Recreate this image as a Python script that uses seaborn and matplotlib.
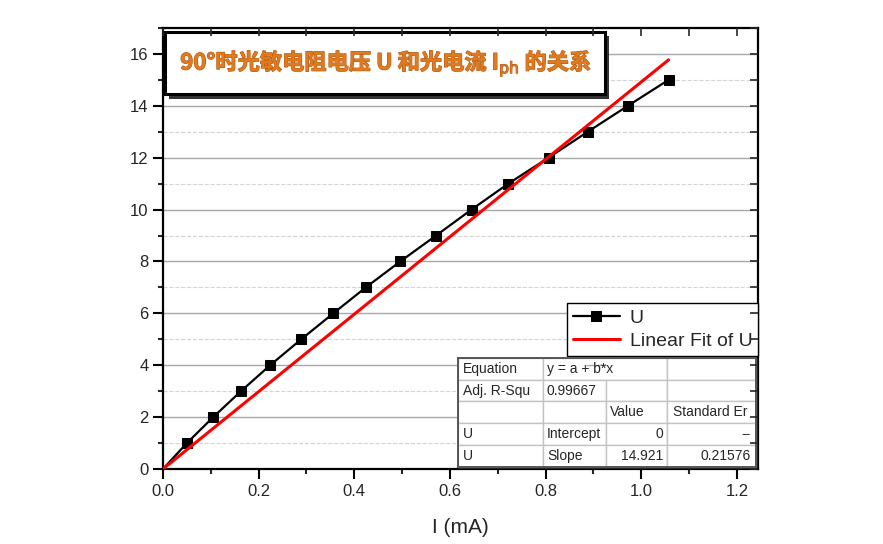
import matplotlib
matplotlib.use("Agg")
import matplotlib.pyplot as plt
import matplotlib.patheffects as pe
from matplotlib.patches import Rectangle
from matplotlib.ticker import MultipleLocator
import seaborn as sns

# data
current_ma = [0.0, 0.050, 0.105, 0.163, 0.224, 0.289, 0.356, 0.424, 0.496,
              0.571, 0.645, 0.722, 0.806, 0.888, 0.972, 1.057]
voltage_u = [0, 1, 2, 3, 4, 5, 6, 7, 8, 9, 10, 11, 12, 13, 14, 15]

fit_slope = 14.921
fit_x = [0.0, 1.057]
fit_y = [fit_slope * x for x in fit_x]

equation_text = "y = a + b*x"
table_rows = [
    ["Equation", "", "", ""],
    ["Adj. R-Squ", "0.99667", "", ""],
    ["", "", "Value", "Standard Er"],
    ["U", "Intercept", "0", "--"],
    ["U", "Slope", "14.921", "0.21576"],
]

title_text = "90°时光敏电阻电压 U 和光电流 I$_{\\mathrm{ph}}$ 的关系"

sns.set_style("ticks")
plt.rcParams["font.family"] = ["Liberation Sans", "DejaVu Sans"]

fig = plt.figure(figsize=(8.83, 5.44), dpi=100)
ax = fig.add_axes([163 / 883, 1 - 469 / 544, 595 / 883, 441 / 544])

# minor (dashed) and major (solid) horizontal grid
ax.yaxis.set_major_locator(MultipleLocator(2))
ax.yaxis.set_minor_locator(MultipleLocator(1))
ax.xaxis.set_major_locator(MultipleLocator(0.2))
ax.xaxis.set_minor_locator(MultipleLocator(0.1))
ax.grid(axis="y", which="major", color="#a8a8a8", linewidth=1.0, linestyle="-")
ax.grid(axis="y", which="minor", color="#d4d4d4", linewidth=0.8, linestyle="--")
ax.grid(axis="x", which="both", visible=False)
ax.set_axisbelow(True)

sns.lineplot(x=current_ma, y=voltage_u, ax=ax, color="black", linewidth=1.6,
             marker="s", markersize=7, markevery=list(range(1, len(voltage_u))),
             markeredgecolor="black", label="U", sort=False, zorder=3)
sns.lineplot(x=fit_x, y=fit_y, ax=ax, color="#ff0000", linewidth=2.2,
             label="Linear Fit of U", zorder=4)

ax.set_xlim(0, 1.244)
ax.set_ylim(0, 17)
ax.set_xlabel("I (mA)", fontsize=15, labelpad=14)
ax.set_ylabel("")
ax.tick_params(axis="both", which="major", labelsize=12, length=7, width=1.5,
               direction="out", color="black")
ax.tick_params(axis="both", which="minor", length=3.5, width=1.5, direction="out")
for s in ax.spines.values():
    s.set_linewidth(1.6)
    s.set_color("black")
    s.set_visible(True)

# inward ticks on top and right
top = ax.twiny()
top.set_xlim(ax.get_xlim())
top.xaxis.set_major_locator(MultipleLocator(0.1))
top.tick_params(axis="x", direction="in", length=6, width=1.2, labeltop=False)
right = ax.twinx()
right.set_ylim(ax.get_ylim())
right.yaxis.set_major_locator(MultipleLocator(1))
right.tick_params(axis="y", direction="in", length=6, width=1.2, labelright=False)
for a in (top, right):
    for s in a.spines.values():
        s.set_visible(False)

# title box with shadow
ax.add_patch(Rectangle((0.010, 0.840), 0.740, 0.141, transform=ax.transAxes,
                       facecolor="#333333", edgecolor="none", zorder=8))
ax.add_patch(Rectangle((0.003, 0.850), 0.740, 0.141, transform=ax.transAxes,
                       facecolor="white", edgecolor="black", linewidth=2.2, zorder=9))
ax.text(0.375, 0.921, title_text, transform=ax.transAxes, ha="center", va="center",
        fontsize=16, fontweight="bold", color="#e07a1f",
        family=["Noto Sans CJK SC", "DejaVu Sans"], zorder=10,
        path_effects=[pe.withStroke(linewidth=0.8, foreground="#b45a12")])

leg = ax.legend(loc="upper right", bbox_to_anchor=(1.0, 0.376), fontsize=14,
                frameon=True, fancybox=False, edgecolor="black", framealpha=1,
                borderaxespad=0, borderpad=0.3, labelspacing=0.3,
                handlelength=2.4, handletextpad=0.5)
leg.get_frame().set_linewidth(1.0)
leg.set_zorder(11)

# fit result table
col_w = [85, 63, 61, 89]
tot = sum(col_w)
tb_x, tb_y, tb_w, tb_h = 0.496, 0.005, 0.501, 0.247
tbl = ax.table(cellText=table_rows, colWidths=[w / tot for w in col_w],
               bbox=[tb_x, tb_y, tb_w, tb_h], zorder=12)
tbl.auto_set_font_size(False)
tbl.set_fontsize(10)
for (r, c), cell in tbl.get_celld().items():
    cell.set_edgecolor("#c4c4c4")
    cell.set_linewidth(1.0)
    cell.set_facecolor("white")
    txt = cell.get_text()
    if r >= 3 and c >= 2:
        cell._loc = "right"
        txt.set_ha("right")
    else:
        cell._loc = "left"
        txt.set_ha("left")
    cell.PAD = 0.06
    if r == 0 and c == 1:
        cell.visible_edges = "BTL"
    if r == 0 and c == 2:
        cell.visible_edges = "BTR"
# equation spans two columns
eq_x = tb_x + tb_w * col_w[0] / tot + 0.06 * tb_w * col_w[1] / tot
ax.text(eq_x, tb_y + tb_h * 0.9, equation_text, transform=ax.transAxes,
        ha="left", va="center", fontsize=10, zorder=14)
ax.add_patch(Rectangle((tb_x, tb_y), tb_w, tb_h, transform=ax.transAxes,
                       facecolor="none", edgecolor="#555555", linewidth=1.4, zorder=13))

fig.savefig("out.png", dpi=100)
